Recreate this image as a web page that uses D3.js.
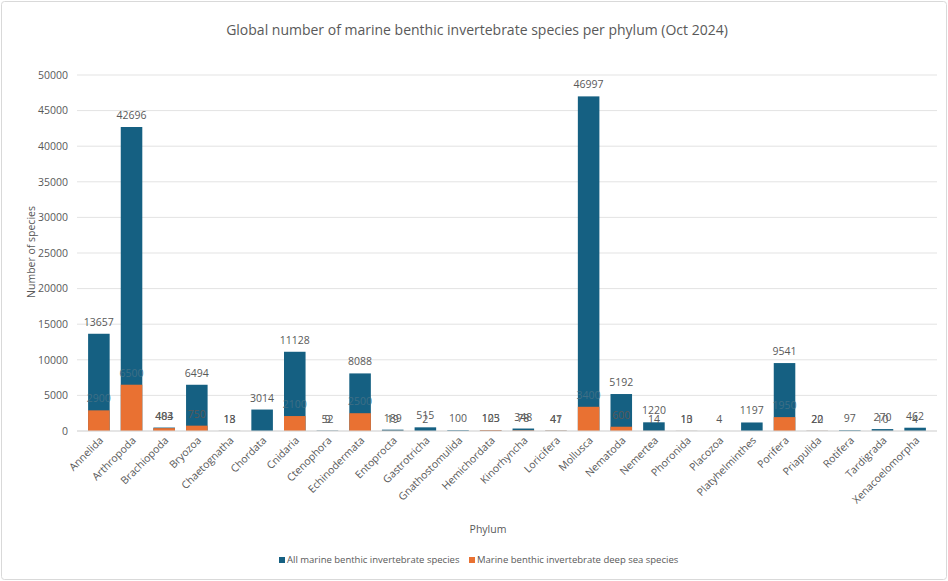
<!DOCTYPE html>
<html>
<head>
<meta charset="UTF-8">
<title>marine benthic species</title>
<script src="https://cdn.jsdelivr.net/npm/d3@7"></script>
<style>
  body { margin: 0; background: #fff; }
  text { font-family: "Open Sans", "Noto Sans", sans-serif; }
</style>
</head>
<body>
<div id="chart"></div>
<script>
const phyla = ["Annelida", "Arthropoda", "Brachiopoda", "Bryozoa", "Chaetognatha", "Chordata",
  "Cnidaria", "Ctenophora", "Echinodermata", "Entoprocta", "Gastrotricha", "Gnathostomulida",
  "Hemichordata", "Kinorhyncha", "Loricifera", "Mollusca", "Nematoda", "Nemertea", "Phoronida",
  "Placozoa", "Platyhelminthes", "Porifera", "Priapulida", "Rotifera", "Tardigrada", "Xenacoelomorpha"];
const allSpecies = [13657, 42696, 484, 6494, 18, 3014, 11128, 52, 8088, 189, 515, 100,
  125, 348, 47, 46997, 5192, 1220, 13, 4, 1197, 9541, 22, 97, 270, 462];
const deepSea = [2900, 6500, 403, 750, 13, 0, 2100, 9, 2500, 19, 2, 0,
  103, 78, 41, 3400, 600, 14, 10, 0, 0, 1950, 20, 0, 10, 4];
const yTicks = [0, 5000, 10000, 15000, 20000, 25000, 30000, 35000, 40000, 45000, 50000];

const width = 948, height = 581;
const blue = "#156082", orange = "#E97132", grey = "#595959";

const svg = d3.select("#chart").append("svg")
  .attr("width", width)
  .attr("height", height);

svg.append("rect")
  .attr("x", 1.5).attr("y", 1.5)
  .attr("width", width - 3).attr("height", height - 3)
  .attr("rx", 3)
  .attr("fill", "#fff")
  .attr("stroke", "#d9d9d9");

const x = d3.scaleBand()
  .domain(phyla)
  .range([77, 937])
  .padding(0.34);

const y = d3.scaleLinear()
  .domain([0, 50000])
  .range([431, 75]);

// gridlines
svg.append("g")
  .selectAll("line")
  .data(yTicks)
  .join("line")
  .attr("x1", 77).attr("x2", 937)
  .attr("y1", d => y(d)).attr("y2", d => y(d))
  .attr("stroke", "#e3e3e3");

// y axis labels
svg.append("g")
  .call(d3.axisLeft(y).tickValues(yTicks).tickSize(0).tickPadding(8).tickFormat(d3.format("d")))
  .attr("transform", "translate(76,0)")
  .call(g => g.select(".domain").remove())
  .call(g => g.selectAll("text").attr("fill", grey).attr("font-size", 10.5)
    .style("font-family", "'Open Sans', sans-serif"));

const data = phyla.map((p, i) => ({ name: p, all: allSpecies[i], deep: deepSea[i] }));

svg.append("g")
  .selectAll("rect")
  .data(data)
  .join("rect")
  .attr("x", d => x(d.name))
  .attr("y", d => y(d.all))
  .attr("width", x.bandwidth())
  .attr("height", d => y(0) - y(d.all))
  .attr("fill", blue);

svg.append("g")
  .selectAll("rect")
  .data(data)
  .join("rect")
  .attr("x", d => x(d.name))
  .attr("y", d => y(d.deep))
  .attr("width", x.bandwidth())
  .attr("height", d => y(0) - y(d.deep))
  .attr("fill", orange);

// baseline
svg.append("line")
  .attr("x1", 77).attr("x2", 937)
  .attr("y1", y(0)).attr("y2", y(0))
  .attr("stroke", "#d9d9d9");

// value labels
svg.append("g")
  .selectAll("text")
  .data(data)
  .join("text")
  .attr("x", d => x(d.name) + x.bandwidth() / 2)
  .attr("y", d => y(d.all) - 8)
  .attr("text-anchor", "middle")
  .attr("font-size", 10.5)
  .attr("fill", grey)
  .text(d => d.all);

svg.append("g")
  .selectAll("text")
  .data(data.filter(d => d.deep > 0))
  .join("text")
  .attr("x", d => x(d.name) + x.bandwidth() / 2)
  .attr("y", d => y(d.deep) - 8)
  .attr("text-anchor", "middle")
  .attr("font-size", 10.5)
  .attr("fill", d => d.deep > 1500 ? "#3f6f86" : grey)
  .text(d => d.deep);

// x axis labels
svg.append("g")
  .attr("transform", "translate(0," + y(0) + ")")
  .call(d3.axisBottom(x).tickSize(0).tickPadding(0))
  .call(g => g.select(".domain").remove())
  .call(g => g.selectAll("text")
    .attr("fill", grey)
    .attr("font-size", 10.5)
    .style("font-family", "'Open Sans', sans-serif")
    .attr("text-anchor", "end")
    .attr("dy", 0)
    .attr("transform", "translate(5,10) rotate(-45)"));

// titles
svg.append("text")
  .attr("x", 477).attr("y", 35)
  .attr("text-anchor", "middle")
  .attr("font-size", 14)
  .attr("fill", grey)
  .text("Global number of marine benthic invertebrate species per phylum (Oct 2024)");

svg.append("text")
  .attr("transform", "translate(35,252) rotate(-90)")
  .attr("text-anchor", "middle")
  .attr("font-size", 10.5)
  .attr("fill", grey)
  .text("Number of species");

svg.append("text")
  .attr("x", 488).attr("y", 533)
  .attr("text-anchor", "middle")
  .attr("font-size", 10.5)
  .attr("fill", grey)
  .text("Phylum");

// legend
const legend = [
  { label: "All marine benthic invertebrate species", color: blue, x: 279 },
  { label: "Marine benthic invertebrate deep sea species", color: orange, x: 469 }
];
const lg = svg.append("g").selectAll("g").data(legend).join("g")
  .attr("transform", d => "translate(" + d.x + ",563)");
lg.append("rect")
  .attr("x", 0).attr("y", -6)
  .attr("width", 6).attr("height", 6)
  .attr("fill", d => d.color);
lg.append("text")
  .attr("x", 8).attr("y", 0)
  .attr("font-size", 9.5)
  .attr("fill", grey)
  .text(d => d.label);
</script>
</body>
</html>
